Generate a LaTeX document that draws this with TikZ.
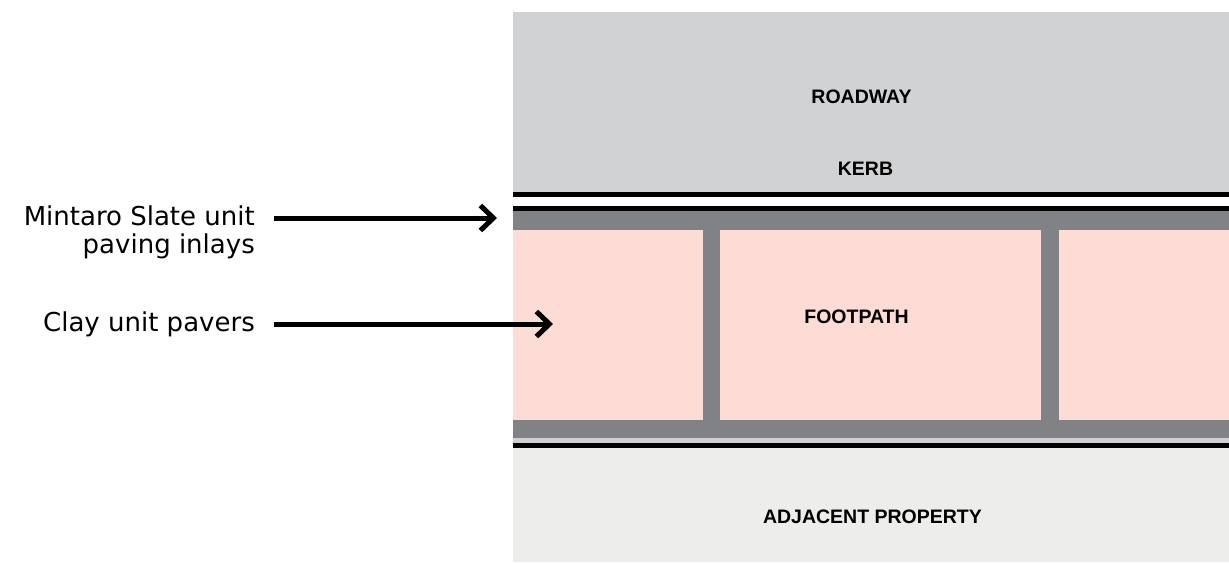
\documentclass[tikz,border=0pt]{standalone}
\usepackage{fontspec}
\setmainfont{Liberation Sans}
\newfontfamily\labelfont{DejaVu Sans}
\usetikzlibrary{arrows.meta}
\definecolor{road}{HTML}{D1D2D4}
\definecolor{inlay}{HTML}{818286}
\definecolor{paver}{HTML}{FDDCD6}
\definecolor{adj}{HTML}{EDEDEB}
\definecolor{edge}{HTML}{D0D0D2}
\tikzset{
  zonetxt/.style={anchor=base, inner sep=0pt, font=\bfseries\fontsize{19.5}{22}\selectfont},
  sidetxt/.style={anchor=base east, inner sep=0pt, font=\labelfont\fontsize{26}{32}\selectfont},
  arr/.style={line width=5pt, -{Straight Barb[length=13pt,width=25pt,line width=5pt]}},
}
\begin{document}
\begin{tikzpicture}[x=1pt,y=-1pt]
\useasboundingbox (0,0) rectangle (1229,563);
% bands
\fill[road] (513,12) rectangle (1229,192);
\fill[black] (513,192) rectangle (1229,197);
\fill[black] (513,206) rectangle (1229,211);
\fill[inlay] (513,211) rectangle (1229,230);
\fill[paver] (513,230) rectangle (1229,420);
\fill[inlay] (703,230) rectangle (720,420);
\fill[inlay] (1041,230) rectangle (1059,420);
\fill[inlay] (513,420) rectangle (1229,438);
\fill[edge] (513,438) rectangle (1229,443);
\fill[black] (513,443) rectangle (1229,448);
\fill[adj] (513,448) rectangle (1229,562);
% zone labels
\node[zonetxt] (road) at (861.5,103) {ROADWAY};
\node[zonetxt] (kerb) at (865.5,175) {KERB};
\node[zonetxt] (foot) at (856.5,323) {FOOTPATH};
\node[zonetxt] (adjp) at (872.5,523) {ADJACENT PROPERTY};
% side labels
\node[sidetxt] (inlayA) at (255,225) {Mintaro Slate unit};
\node[sidetxt] (inlayB) at (255,253) {paving inlays};
\node[sidetxt] (clay) at (255,331) {Clay unit pavers};
% arrows
\coordinate (s1) at (274,218);
\coordinate (t1) at (497,218);
\coordinate (s2) at (274,324);
\coordinate (t2) at (553,324);
\draw[arr] (s1) -- (t1);
\draw[arr] (s2) -- (t2);
\end{tikzpicture}
\end{document}
